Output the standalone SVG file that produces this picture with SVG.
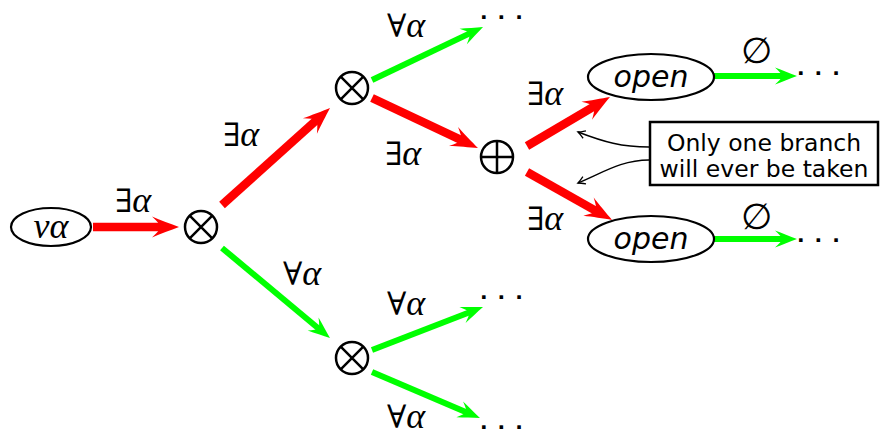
<svg xmlns="http://www.w3.org/2000/svg" width="885" height="440" viewBox="0 0 885 440">
<style>
.node{fill:#fff;stroke:#000;stroke-width:2.2}
.op{fill:none;stroke:#000;stroke-width:2.5}
.red{stroke:#ff0000;stroke-width:8.5;fill:none}
.grn{stroke:#00ff00;stroke-width:6;fill:none}
.thin{stroke:#000;stroke-width:1.4;fill:none}
.m{font-family:"Liberation Serif","DejaVu Serif",serif;font-size:36px;fill:#000}
.q{font-family:"DejaVu Serif",serif;font-size:32px}
.i{font-style:italic}
.e{font-family:"DejaVu Serif",serif;font-size:36px;fill:#000}
.dots{font-family:"DejaVu Sans",sans-serif;font-size:20px;font-weight:bold;letter-spacing:10px;fill:#000}
.open{font-family:"DejaVu Sans","Liberation Sans",sans-serif;font-style:italic;font-size:30px;fill:#000}
.box{font-family:"DejaVu Sans","Liberation Sans",sans-serif;font-size:23.5px;fill:#000}
</style>
<defs>
<marker id="ar" markerUnits="userSpaceOnUse" orient="auto" refX="0" refY="0" markerWidth="40" markerHeight="40" overflow="visible">
<path d="M16,0 C8,-3 -3,-7 -11,-10.5 Q-4,-4 -2,0 Q-4,4 -11,10.5 C-3,7 8,3 16,0 Z" fill="#ff0000"/>
</marker>
<marker id="ag" markerUnits="userSpaceOnUse" orient="auto" refX="0" refY="0" markerWidth="40" markerHeight="40" overflow="visible">
<path d="M13,0 C6,-2.5 -2,-6 -9,-8.5 Q-3,-3 -1.5,0 Q-3,3 -9,8.5 C-2,6 6,2.5 13,0 Z" fill="#00ff00"/>
</marker>
<marker id="ak" markerUnits="userSpaceOnUse" orient="auto" refX="0" refY="0" markerWidth="20" markerHeight="20" overflow="visible">
<path d="M-7,-4 Q-2,-0.8 0,0 Q-2,0.8 -7,4" fill="none" stroke="#000" stroke-width="1.3"/>
</marker>
</defs>

<g id="connectors">
<line class="red" x1="93" y1="227" x2="163" y2="227" marker-end="url(#ar)"/>
<line class="red" x1="222" y1="205" x2="318.1" y2="118.7" marker-end="url(#ar)"/>
<line class="grn" x1="222" y1="248" x2="320" y2="329.7" marker-end="url(#ag)"/>
<line class="grn" x1="372" y1="80" x2="471.3" y2="32.6" marker-end="url(#ag)"/>
<line class="red" x1="372" y1="98" x2="463.5" y2="141.2" marker-end="url(#ar)"/>
<line class="red" x1="527" y1="146" x2="596.2" y2="105.1" marker-end="url(#ar)"/>
<line class="red" x1="527" y1="172" x2="598.1" y2="212.1" marker-end="url(#ar)"/>
<line class="grn" x1="714" y1="76" x2="784" y2="76" marker-end="url(#ag)"/>
<line class="grn" x1="714" y1="239" x2="784" y2="239" marker-end="url(#ag)"/>
<line class="grn" x1="372" y1="350" x2="470.9" y2="311.7" marker-end="url(#ag)"/>
<line class="grn" x1="372" y1="372" x2="468" y2="412.9" marker-end="url(#ag)"/>
<path class="thin" d="M649,147 C622,147 604,142 578,132" marker-end="url(#ak)"/>
<path class="thin" d="M649,160 C622,160 604,172 578,183" marker-end="url(#ak)"/>

<text class="m" x="115" y="212"><tspan class="q">∃</tspan><tspan class="i">α</tspan></text>
<text class="m" x="223" y="146"><tspan class="q">∃</tspan><tspan class="i">α</tspan></text>
<text class="m" x="283" y="285"><tspan class="q">∀</tspan><tspan class="i">α</tspan></text>
<text class="m" x="387" y="37"><tspan class="q">∀</tspan><tspan class="i">α</tspan></text>
<text class="m" x="385" y="165"><tspan class="q">∃</tspan><tspan class="i">α</tspan></text>
<text class="m" x="527" y="105"><tspan class="q">∃</tspan><tspan class="i">α</tspan></text>
<text class="m" x="527" y="230"><tspan class="q">∃</tspan><tspan class="i">α</tspan></text>
<text class="m" x="387" y="315"><tspan class="q">∀</tspan><tspan class="i">α</tspan></text>
<text class="m" x="387" y="428"><tspan class="q">∀</tspan><tspan class="i">α</tspan></text>
<text class="e" x="756" y="63" text-anchor="middle">∅</text>
<text class="e" x="756" y="229" text-anchor="middle">∅</text>

<text class="dots" x="480" y="24">···</text>
<text class="dots" x="480" y="304">···</text>
<text class="dots" x="480" y="434">···</text>
<text class="dots" x="797" y="80">···</text>
<text class="dots" x="797" y="247">···</text>
</g>

<g id="nu">
<ellipse class="node" cx="51" cy="227" rx="40" ry="19"/>
<text class="m i" x="51" y="238" text-anchor="middle">να</text>
</g>
<g id="x1">
<circle class="op" cx="201" cy="227" r="16"/>
<path class="op" d="M189.7,215.7 L212.3,238.3 M212.3,215.7 L189.7,238.3"/>
</g>
<g id="x2">
<circle class="op" cx="352" cy="88" r="16"/>
<path class="op" d="M340.7,76.7 L363.3,99.3 M363.3,76.7 L340.7,99.3"/>
</g>
<g id="x3">
<circle class="op" cx="352" cy="358" r="16"/>
<path class="op" d="M340.7,346.7 L363.3,369.3 M363.3,346.7 L340.7,369.3"/>
</g>
<g id="p1">
<circle class="op" cx="497" cy="157" r="16"/>
<path class="op" d="M481,157 L513,157 M497,141 L497,173"/>
</g>
<g id="o1">
<ellipse class="node" cx="651" cy="77" rx="63" ry="23"/>
<text class="open" x="651" y="87" text-anchor="middle">open</text>
</g>
<g id="o2">
<ellipse class="node" cx="651" cy="239" rx="63" ry="23"/>
<text class="open" x="651" y="249" text-anchor="middle">open</text>
</g>
<g id="note">
<rect x="650" y="122" width="228" height="63" fill="#fff" stroke="#000" stroke-width="2.5"/>
<text class="box" x="764" y="151" text-anchor="middle">Only one branch</text>
<text class="box" x="764" y="177" text-anchor="middle">will ever be taken</text>
</g>
</svg>
